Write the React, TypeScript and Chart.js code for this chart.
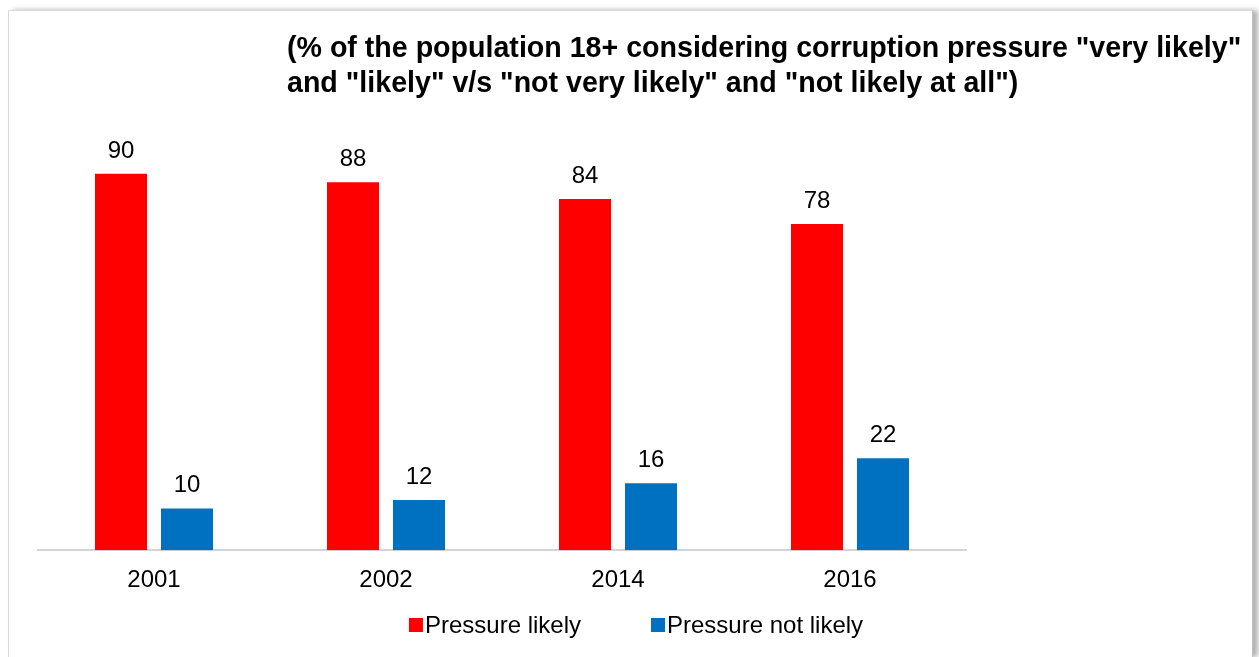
import React, { useEffect, useRef } from 'react';
import { Chart, registerables } from 'chart.js';

Chart.register(...registerables);

const categories = ['2001', '2002', '2014', '2016'];
const pressureLikely = [90, 88, 84, 78];
const pressureNotLikely = [10, 12, 16, 22];
const seriesNames = ['Pressure likely', 'Pressure not likely'];
const seriesColors = ['#ff0000', '#0070c0'];
const titleLines = [
  '(% of the population 18+ considering corruption pressure "very likely"',
  'and "likely" v/s "not very likely" and "not likely at all")',
];

const FONT = '"Liberation Sans", Arial, Helvetica, sans-serif';

const overlayPlugin = {
  id: 'overlay',
  afterDatasetsDraw(chart: any) {
    const ctx = chart.ctx as CanvasRenderingContext2D;
    ctx.save();
    // value labels above bars
    ctx.font = `24px ${FONT}`;
    ctx.fillStyle = '#000000';
    ctx.textAlign = 'center';
    ctx.textBaseline = 'alphabetic';
    chart.data.datasets.forEach((ds: any, i: number) => {
      const meta = chart.getDatasetMeta(i);
      meta.data.forEach((bar: any, j: number) => {
        ctx.fillText(String(ds.data[j]), bar.x, bar.y - 16);
      });
    });
    // title
    ctx.font = `bold 28.6px ${FONT}`;
    ctx.textAlign = 'left';
    titleLines.forEach((line, i) => ctx.fillText(line, 287, 56.5 + i * 35));
    // legend
    ctx.font = `24px ${FONT}`;
    const widths = seriesNames.map((n) => ctx.measureText(n).width);
    const box = 14;
    const gap = 2;
    const itemGap = 70;
    const total =
      widths.reduce((a, w) => a + box + gap + w, 0) + itemGap * (widths.length - 1);
    let x = 636 - total / 2;
    seriesNames.forEach((n, i) => {
      ctx.fillStyle = seriesColors[i];
      ctx.fillRect(x, 618, box, box);
      ctx.fillStyle = '#000000';
      ctx.fillText(n, x + box + gap, 632.5);
      x += box + gap + widths[i] + itemGap;
    });
    ctx.restore();
  },
};

export default function App() {
  const canvasRef = useRef<HTMLCanvasElement | null>(null);

  useEffect(() => {
    if (!canvasRef.current) return;
    const chart = new Chart(canvasRef.current, {
      type: 'bar',
      data: {
        labels: categories,
        datasets: [
          {
            label: seriesNames[0],
            data: pressureLikely,
            backgroundColor: seriesColors[0],
            categoryPercentage: 0.569,
            barPercentage: 0.788,
          },
          {
            label: seriesNames[1],
            data: pressureNotLikely,
            backgroundColor: seriesColors[1],
            categoryPercentage: 0.569,
            barPercentage: 0.788,
          },
        ],
      },
      options: {
        responsive: false,
        animation: false,
        layout: { padding: { left: 38, right: 293, top: 132, bottom: 46 } },
        plugins: {
          legend: { display: false },
          title: { display: false },
          tooltip: { enabled: false },
        },
        scales: {
          x: {
            grid: { display: false, drawTicks: false },
            border: { display: true, color: '#d4d4d4', width: 2 },
            ticks: {
              font: { family: FONT, size: 24 },
              color: '#000000',
              padding: 16,
            },
          },
          y: {
            display: false,
            min: 0,
            max: 100,
          },
        },
      },
      plugins: [overlayPlugin],
    });
    return () => chart.destroy();
  }, []);

  return (
    <>
      <div
        style={{
          position: 'absolute',
          left: 8,
          top: 10,
          width: 1243,
          height: 646,
          borderLeft: '1px solid #d9d9d9',
          borderTop: '1px solid #d9d9d9',
          borderRight: '1px solid #c0c0c0',
          boxShadow: '5px 0 5px rgba(0,0,0,0.3)',
          background: '#ffffff',
        }}
      />
      <canvas
        ref={canvasRef}
        width={1259}
        height={657}
        style={{ position: 'absolute', left: 0, top: 0, width: 1259, height: 657 }}
      />
    </>
  );
}
